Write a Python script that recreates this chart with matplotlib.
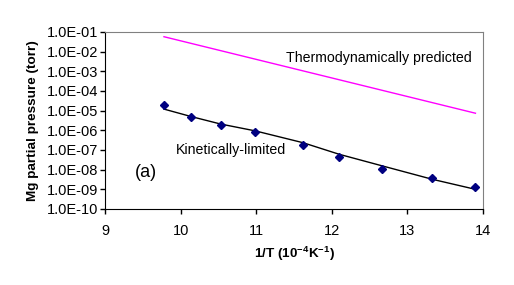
import numpy as np
import matplotlib.pyplot as plt

plt.rcParams['font.family'] = ['Liberation Sans', 'DejaVu Sans']
plt.rcParams['mathtext.default'] = 'regular'

# measured points (kinetically limited)
inv_T = [9.78, 10.14, 10.53, 10.99, 11.62, 12.10, 12.66, 13.33, 13.90]
log_p = [-4.73, -5.34, -5.74, -6.10, -6.73, -7.36, -7.98, -8.44, -8.90]
# trend line through the points
log_fit = [-4.92, -5.30, -5.68, -6.03, -6.63, -7.22, -7.80, -8.49, -9.00]
# thermodynamic prediction
inv_T_th = [9.78, 13.90]
log_th = [-1.24, -5.13]

yticks = [1e-10, 1e-9, 1e-8, 1e-7, 1e-6, 1e-5, 1e-4, 1e-3, 1e-2, 1e-1]
ylabels = ["1.0E-10", "1.0E-09", "1.0E-08", "1.0E-07", "1.0E-06",
           "1.0E-05", "1.0E-04", "1.0E-03", "1.0E-02", "1.0E-01"]

fig = plt.figure(figsize=(5.14, 2.85), dpi=100)
ax = fig.add_axes([105/514, 1 - 209/285, 378/514, 177/285])

ax.plot(inv_T_th, 10**np.array(log_th), color='#ff00ff', lw=1)
ax.plot(inv_T, 10**np.array(log_fit), color='black', lw=1)
ax.plot(inv_T, 10**np.array(log_p), 'D', color='#000080', ms=4, ls='none')

ax.set_yscale('log')
ax.set_ylim(1e-10, 1e-1)
ax.set_xlim(9, 14)
ax.set_yticks(yticks)
ax.set_yticklabels(ylabels)
ax.minorticks_off()
ax.set_xticks([9, 10, 11, 12, 13, 14])

ax.tick_params(direction='out', length=3.5, width=1, labelsize=10.5)
ax.tick_params(axis='x', pad=7)
ax.tick_params(axis='y', pad=1)
for s in ['top', 'right']:
    ax.spines[s].set_color('#808080')
ax.spines['left'].set_color('black')
ax.spines['bottom'].set_color('black')

ax.text(12.62, 10**-2.32, "Thermodynamically predicted", fontsize=10.2, ha='center', va='center')
ax.text(9.94, 10**-7.0, "Kinetically-limited", fontsize=10.2, ha='left', va='center')
ax.text(9.40, 10**-8.12, "(a)", fontsize=13, ha='left', va='center')

ax.set_xlabel("1/T (10$^{-4}$K$^{-1}$)", fontsize=9.7, fontweight='bold', labelpad=5.5)
ax.set_ylabel("Mg partial pressure (torr)", fontsize=9.7, fontweight='bold', labelpad=6)

fig.savefig("out.png", dpi=100)
